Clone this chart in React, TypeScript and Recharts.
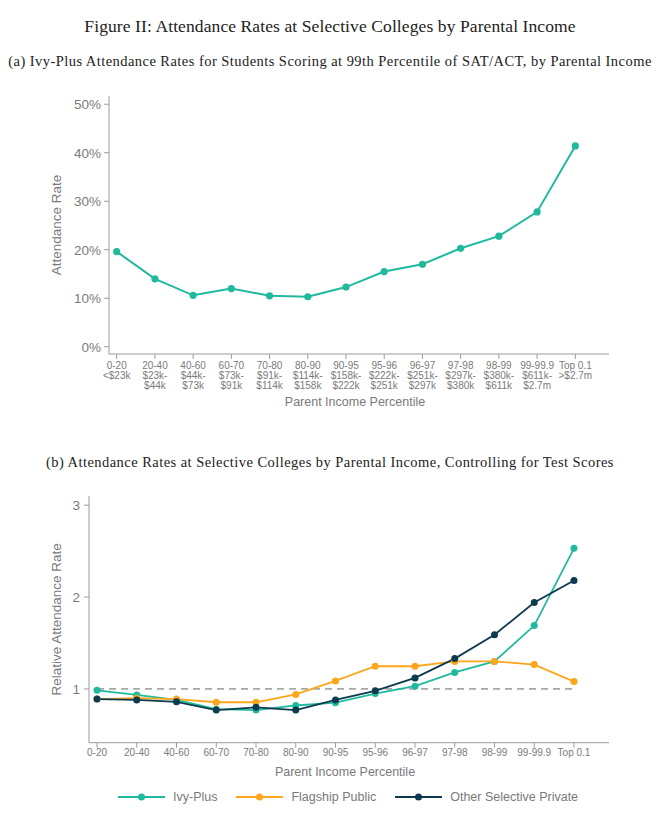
import React from "react";
import {
  Legend,
  Line,
  LineChart,
  ReferenceLine,
  XAxis,
  YAxis,
} from "recharts";

const percentiles = ["0-20", "20-40", "40-60", "60-70", "70-80", "80-90", "90-95", "95-96", "96-97", "97-98", "98-99", "99-99.9", "Top 0.1"];
const incomeFrom = ["<$23k", "$23k-", "$44k-", "$73k-", "$91k-", "$114k-", "$158k-", "$222k-", "$251k-", "$297k-", "$380k-", "$611k-", ">$2.7m"];
const incomeTo = ["", "$44k", "$73k", "$91k", "$114k", "$158k", "$222k", "$251k", "$297k", "$380k", "$611k", "$2.7m", ""];

// panel (a): attendance rate (%) for 99th percentile SAT/ACT
const ivyPlusTop1 = [19.6, 14.0, 10.6, 12.0, 10.5, 10.3, 12.3, 15.5, 17.0, 20.3, 22.8, 27.8, 41.4];

// panel (b): relative attendance rate
const ivyPlusRel = [0.985, 0.935, 0.88, 0.78, 0.77, 0.82, 0.85, 0.95, 1.03, 1.18, 1.3, 1.69, 2.53];
const flagshipRel = [0.89, 0.9, 0.89, 0.855, 0.855, 0.94, 1.087, 1.247, 1.247, 1.3, 1.3, 1.265, 1.08];
const otherPrivateRel = [0.89, 0.88, 0.86, 0.77, 0.8, 0.77, 0.88, 0.98, 1.12, 1.33, 1.59, 1.94, 2.18];

const yTicksA = [0, 10, 20, 30, 40, 50];
const yTicksB = [1, 2, 3];

const seriesNames = ["Ivy-Plus", "Flagship Public", "Other Selective Private"];

const TEAL = "#1fba9d";
const ORANGE = "#fca61c";
const NAVY = "#0c3a4e";
const GREY_TEXT = "#7a7a7a";
const AXIS = "#9c9c9c";
const SANS = "'Liberation Sans', Arial, sans-serif";
const SERIF = "'Liberation Serif', 'Times New Roman', serif";

const dataA = percentiles.map((p, i) => ({ pct: p, rate: ivyPlusTop1[i] }));
const dataB = percentiles.map((p, i) => ({
  pct: p,
  ivy: ivyPlusRel[i],
  flagship: flagshipRel[i],
  other: otherPrivateRel[i],
}));

function IncomeTick(props: any) {
  const { x, y, payload } = props;
  const i = payload.index;
  return (
    <g transform={`translate(${x},${y})`}>
      <text textAnchor="middle" fill={GREY_TEXT} fontSize={10} fontFamily={SANS}>
        <tspan x={0} dy={7.7}>{percentiles[i]}</tspan>
        <tspan x={0} dy={10}>{incomeFrom[i]}</tspan>
        {incomeTo[i] && (
          <tspan x={0} dy={10}>{incomeTo[i]}</tspan>
        )}
      </text>
    </g>
  );
}

function LegendRow() {
  const items = [
    { name: seriesNames[0], color: TEAL },
    { name: seriesNames[1], color: ORANGE },
    { name: seriesNames[2], color: NAVY },
  ];
  return (
    <div
      style={{
        display: "flex",
        alignItems: "center",
        height: 28,
        paddingLeft: 118,
        fontFamily: SANS,
        fontSize: 12.5,
        color: GREY_TEXT,
      }}
    >
      {items.map((it) => (
        <div key={it.name} style={{ display: "flex", alignItems: "center", marginRight: 19 }}>
          <svg width={47} height={10} style={{ marginRight: 8 }}>
            <line x1={0} y1={5} x2={47} y2={5} stroke={it.color} strokeWidth={2} />
            <circle cx={23.5} cy={5} r={3.5} fill={it.color} />
          </svg>
          <span>{it.name}</span>
        </div>
      ))}
    </div>
  );
}

const subtitleStyle: React.CSSProperties = {
  position: "absolute",
  width: 660,
  textAlign: "center",
  fontFamily: SERIF,
  fontSize: 14.5,
  letterSpacing: 0.45,
  lineHeight: "18px",
  color: "#222",
  whiteSpace: "nowrap",
};

export default function App() {
  return (
    <div
      style={{
        position: "absolute",
        left: 0,
        top: 0,
        width: 660,
        height: 820,
        background: "#fff",
        overflow: "hidden",
      }}
    >
      <div
        style={{
          position: "absolute",
          top: 16,
          width: 660,
          textAlign: "center",
          fontFamily: SERIF,
          fontSize: 17.5,
          letterSpacing: 0.1,
          lineHeight: "20px",
          color: "#222",
        }}
      >
        Figure II: Attendance Rates at Selective Colleges by Parental Income
      </div>
      <div style={{ ...subtitleStyle, top: 52 }}>
        (a) Ivy-Plus Attendance Rates for Students Scoring at 99th Percentile of SAT/ACT, by Parental Income
      </div>

      <div style={{ position: "absolute", top: 80, left: 0 }}>
        <LineChart width={660} height={340} data={dataA} margin={{ top: 16, right: 51, left: 0, bottom: 0 }}>
          <XAxis
            dataKey="pct"
            interval={0}
            padding={{ left: 7.7, right: 33.7 }}
            height={66}
            tickSize={5}
            tickMargin={2}
            stroke={AXIS}
            tick={<IncomeTick />}
            label={{
              value: "Parent Income Percentile",
              position: "insideBottom",
              offset: 14,
              dx: -4,
              fill: GREY_TEXT,
              fontSize: 12.5,
              fontFamily: SANS,
            }}
          />
          <YAxis
            width={109}
            domain={[-1.5, 51.7]}
            ticks={yTicksA}
            tickFormatter={(v) => `${v}%`}
            tickSize={5}
            tickMargin={3}
            stroke={AXIS}
            tick={{ fill: GREY_TEXT, fontSize: 13.5, fontFamily: SANS }}
            label={{
              value: "Attendance Rate",
              angle: -90,
              position: "center",
              dx: 2,
              fill: GREY_TEXT,
              fontSize: 13.5,
              fontFamily: SANS,
            }}
          />
          <Line
            type="linear"
            dataKey="rate"
            stroke={TEAL}
            strokeWidth={2}
            dot={{ r: 3.6, fill: TEAL, stroke: TEAL, strokeWidth: 0 }}
            isAnimationActive={false}
          />
        </LineChart>
      </div>

      <div style={{ ...subtitleStyle, top: 453 }}>
        (b) Attendance Rates at Selective Colleges by Parental Income, Controlling for Test Scores
      </div>

      <div style={{ position: "absolute", top: 480, left: 0 }}>
        <LineChart width={660} height={330.7} data={dataB} margin={{ top: 16, right: 51, left: 0, bottom: 0 }}>
          <XAxis
            dataKey="pct"
            interval={0}
            padding={{ left: 8, right: 35 }}
            height={40}
            tickSize={5}
            tickMargin={1}
            stroke={AXIS}
            tick={{ fill: GREY_TEXT, fontSize: 10, fontFamily: SANS }}
            label={{
              value: "Parent Income Percentile",
              position: "insideBottom",
              offset: 7,
              dx: -4,
              fill: GREY_TEXT,
              fontSize: 12.5,
              fontFamily: SANS,
            }}
          />
          <YAxis
            width={89}
            domain={[0.415, 3.1]}
            ticks={yTicksB}
            tickSize={5}
            tickMargin={4}
            stroke={AXIS}
            tick={{ fill: GREY_TEXT, fontSize: 13.5, fontFamily: SANS }}
            label={{
              value: "Relative Attendance Rate",
              angle: -90,
              position: "center",
              dx: 12,
              fill: GREY_TEXT,
              fontSize: 13.5,
              fontFamily: SANS,
            }}
          />
          <ReferenceLine
            segment={[
              { x: percentiles[0], y: 1 },
              { x: percentiles[percentiles.length - 1], y: 1 },
            ]}
            stroke="#a8a8a8"
            strokeWidth={1.8}
            strokeDasharray="7 5"
          />
          <Legend verticalAlign="bottom" wrapperStyle={{ left: 0, width: 660 }} content={() => <LegendRow />} />
          <Line
            type="linear"
            dataKey="ivy"
            name={seriesNames[0]}
            stroke={TEAL}
            strokeWidth={1.8}
            dot={{ r: 3.5, fill: TEAL, stroke: TEAL, strokeWidth: 0 }}
            isAnimationActive={false}
          />
          <Line
            type="linear"
            dataKey="flagship"
            name={seriesNames[1]}
            stroke={ORANGE}
            strokeWidth={1.8}
            dot={{ r: 3.5, fill: ORANGE, stroke: ORANGE, strokeWidth: 0 }}
            isAnimationActive={false}
          />
          <Line
            type="linear"
            dataKey="other"
            name={seriesNames[2]}
            stroke={NAVY}
            strokeWidth={1.8}
            dot={{ r: 3.5, fill: NAVY, stroke: NAVY, strokeWidth: 0 }}
            isAnimationActive={false}
          />
        </LineChart>
      </div>
    </div>
  );
}
